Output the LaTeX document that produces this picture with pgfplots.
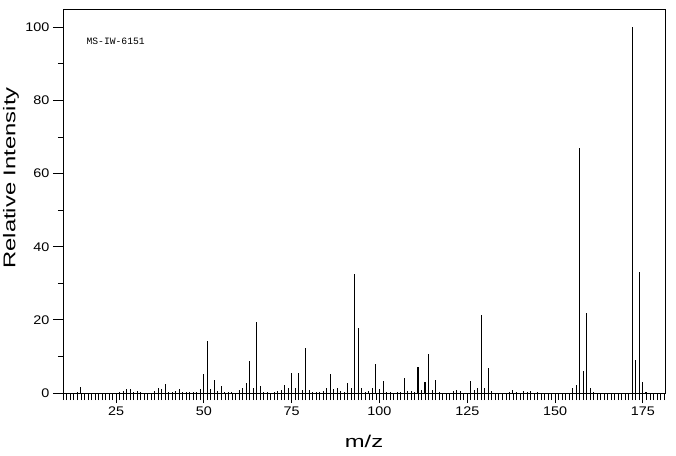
\documentclass[border=0pt]{standalone}
\usepackage{fontspec}
\setmainfont{Liberation Sans}
\newfontfamily\tickfont{Liberation Sans}[FakeStretch=1.15]
\newfontfamily\labfont{Liberation Sans}[FakeStretch=1.4]
\newfontfamily\annfont{Liberation Mono}
\usepackage{pgfplots}
\usepackage{pgfplotstable}
\pgfplotsset{compat=1.18}
\pgfplotstableread{
mz int
14 0.3
15 1.6
26 0.4
27 0.5
28 1.0
29 1.0
30 0.4
31 0.6
32 0.2
36 0.5
37 1.3
38 1.1
39 2.4
40 0.3
41 0.3
42 0.5
43 1.0
44 0.3
45 0.2
46 0.2
47 0.2
48 0.3
49 1.0
50 5.2
51 14.2
52 1.0
53 3.5
54 0.5
55 1.8
56 0.3
57 0.3
58 0.3
60 0.7
61 1.3
62 2.6
63 8.7
64 1.3
65 19.3
66 1.8
67 0.3
68 0.3
70 0.3
71 0.6
72 0.7
73 2.1
74 1.5
75 5.4
76 1.3
77 5.4
78 0.7
79 12.2
80 0.7
81 0.2
82 0.2
83 0.2
84 0.5
85 1.5
86 5.2
87 1.0
88 1.5
89 0.5
90 0.2
91 2.6
92 1.3
93 32.5
94 17.7
95 1.5
96 0.2
97 0.5
98 1.5
99 7.9
100 1.0
101 3.2
102 0.2
103 0.2
105 0.2
106 0.2
107 4.1
108 0.5
109 0.5
110 0.2
112 0.7
114 10.6
115 0.7
116 3.5
117 0.2
121 0.5
122 0.7
123 0.5
126 3.2
127 0.7
128 1.3
129 21.3
130 1.5
131 6.8
132 0.5
137 0.2
138 0.7
139 0.2
141 0.5
142 0.3
143 0.5
145 0.2
155 1.5
156 2.1
157 67.0
158 6.0
159 21.9
160 1.5
161 0.4
172 100
173 9.0
174 33.0
175 2.9
}\peaks
\pgfplotstableread{
mz int
111 7.1
113 2.9
176 0.3
}\thickpeaks
\begin{document}
\begin{tikzpicture}
\begin{axis}[
  scale only axis,
  width=602pt, height=384pt,
  xmin=9.9, xmax=181.3, ymin=0, ymax=105,
  axis line style={black, line width=0.9pt},
  tick align=outside,
  xtick pos=bottom, ytick pos=left,
  xtick={25,50,...,175},
  ytick={0,20,...,100},
  minor ytick={10,30,...,90},
  extra x ticks={10,...,181},
  extra x tick labels={},
  extra x tick style={major tick length=7pt},
  major tick length=10pt,
  minor tick length=5pt,
  every tick/.style={black, line width=0.8pt},
  /pgf/number format/assume math mode=true,
  tick label style={font=\tickfont\fontsize{12.5}{12.5}\selectfont},
  xlabel={m/z},
  ylabel={Relative Intensity},
  every axis x label/.style={at={(axis description cs:0.5,0)}, anchor=center, yshift=-48pt, font=\labfont\fontsize{17}{17}\selectfont},
  every axis y label/.style={at={(axis description cs:-0.0864,0.56)}, rotate=90, anchor=center, font=\labfont\fontsize{17}{17}\selectfont},
  clip=false,
]
\addplot[ycomb, black, line width=0.9pt, mark=none] table[x=mz, y=int] {\peaks};
\addplot[ycomb, black, line width=1.8pt, mark=none] table[x=mz, y=int] {\thickpeaks};
\node[anchor=west, inner sep=0pt, font=\annfont\fontsize{9.7}{9.7}\selectfont] at (axis cs:16.55,96.3) {MS-IW-6151};
\end{axis}
\pgfresetboundingbox
\path ([shift={(-63pt,-62pt)}]current axis.south west) rectangle ([shift={(613pt,393pt)}]current axis.south west);
\end{tikzpicture}
\end{document}
